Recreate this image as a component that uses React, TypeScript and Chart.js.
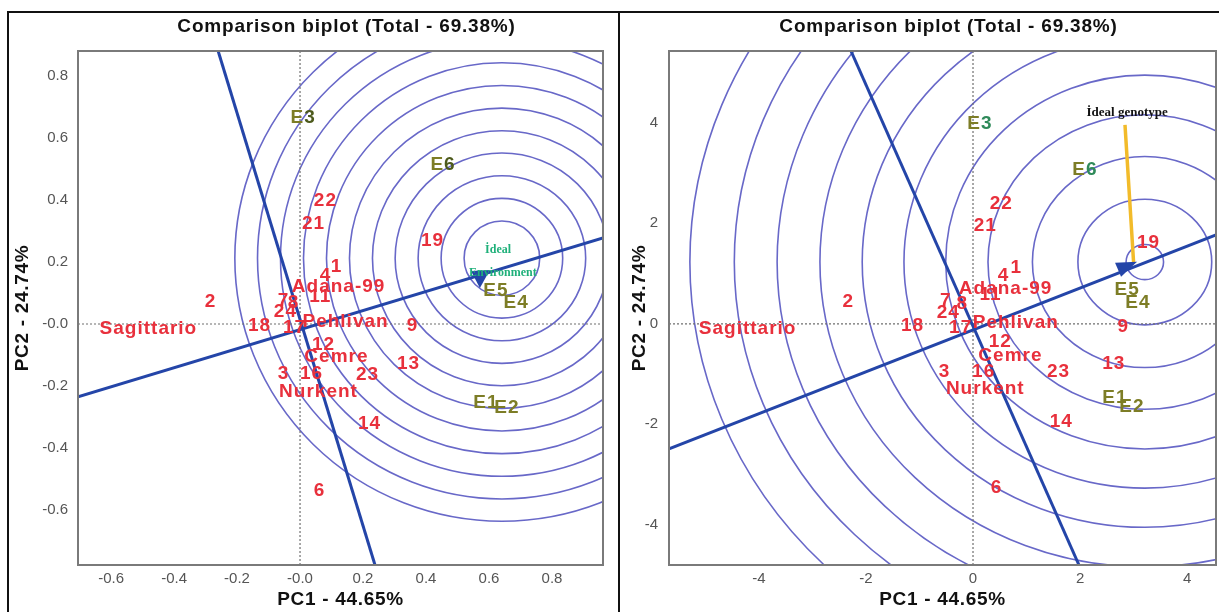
import React, { useEffect, useRef } from 'react';
import { Chart, registerables } from 'chart.js';

Chart.register(...registerables);

// ---------- data ----------
const genotypes = ['Sagittario', '2', '18', '7', '8', '24', '17', 'Pehlivan', 'Adana-99', '11', '4', '1', '21', '22', '12', 'Cemre', '3', '16', 'Nurkent', '23', '13', '9', '14', '6', '19'];
const leftGenX = [-0.483, -0.286, -0.13, -0.054, -0.022, -0.048, -0.019, 0.143, 0.121, 0.063, 0.079, 0.114, 0.041, 0.079, 0.073, 0.114, -0.054, 0.035, 0.057, 0.213, 0.343, 0.356, 0.219, 0.06, 0.419];
const leftGenY = [-0.016, 0.071, -0.006, 0.074, 0.068, 0.039, -0.013, 0.006, 0.119, 0.087, 0.155, 0.184, 0.323, 0.397, -0.068, -0.106, -0.161, -0.161, -0.219, -0.165, -0.129, -0.006, -0.323, -0.539, 0.268];
const rightGenX = [-4.22, -2.34, -1.14, -0.52, -0.21, -0.47, -0.24, 0.79, 0.6, 0.32, 0.56, 0.8, 0.22, 0.52, 0.5, 0.69, -0.54, 0.19, 0.22, 1.59, 2.62, 2.8, 1.64, 0.43, 3.27];
const rightGenY = [-0.1, 0.44, -0.04, 0.46, 0.4, 0.22, -0.08, 0.02, 0.7, 0.58, 0.96, 1.11, 1.95, 2.39, -0.36, -0.64, -0.96, -0.96, -1.29, -0.96, -0.8, -0.06, -1.95, -3.26, 1.61];

const environments = ['E1', 'E2', 'E3', 'E4', 'E5', 'E6'];
const leftEnvX = [0.59, 0.657, 0.01, 0.686, 0.622, 0.454];
const leftEnvY = [-0.255, -0.271, 0.665, 0.068, 0.106, 0.513];
const rightEnvX = [2.65, 2.97, 0.13, 3.08, 2.88, 2.09];
const rightEnvY = [-1.47, -1.65, 3.98, 0.42, 0.68, 3.06];

const leftXRange = [-0.705, 0.962];
const leftYRange = [-0.777, 0.88];
const rightXRange = [-5.68, 4.54];
const rightYRange = [-4.8, 5.43];

const leftTicks = [-0.6, -0.4, -0.2, 0, 0.2, 0.4, 0.6, 0.8];
const leftTickLabels = ['-0.6', '-0.4', '-0.2', '-0.0', '0.2', '0.4', '0.6', '0.8'];
const rightTicks = [-4, -2, 0, 2, 4];
const rightTickLabels = ['-4', '-2', '0', '2', '4'];

const leftIdeal = [0.641, 0.212];
const leftRadii = [0.12, 0.193, 0.266, 0.339, 0.411, 0.484, 0.557, 0.63, 0.703, 0.776, 0.848];
const rightIdeal = [3.21, 1.23];
const rightRadii = [0.35, 1.25, 2.1, 2.93, 3.72, 4.5, 5.28, 6.07, 6.87, 7.67, 8.5];

const leftAeaX = [-0.705, 0.962];
const leftAeaY = [-0.235, 0.277];
const leftPerpX = [-0.26, 0.238];
const leftPerpY = [0.88, -0.777];
const rightAeaX = [-5.68, 4.54];
const rightAeaY = [-2.49, 1.77];
const rightPerpX = [-2.28, 1.98];
const rightPerpY = [5.43, -4.8];

const leftArrowHeadX = [0.543, 0.603, 0.571];
const leftArrowHeadY = [0.171, 0.174, 0.116];
const rightArrowHeadX = [2.654, 3.065, 2.766];
const rightArrowHeadY = [1.214, 1.234, 0.935];

const rightGenotypeArrowX = [2.84, 3.0];
const rightGenotypeArrowY = [3.96, 1.23];

const titleText = 'Comparison biplot (Total - 69.38%)';
const xTitle = 'PC1 - 44.65%';
const yTitle = 'PC2 - 24.74%';

// ---------- styles ----------
const SANS = '"Liberation Sans", Arial, sans-serif';
const SERIF = '"Liberation Serif", "Times New Roman", serif';
const RED = '#e8303c';
const OLIVE = '#7d7d26';
const CIRCLE = '#6868c8';
const LINE = '#2445a8';

type PanelCfg = {
  genX: number[]; genY: number[]; envX: number[]; envY: number[];
  xRange: number[]; yRange: number[]; ticks: number[]; tickLabels: string[];
  ideal: number[]; radii: number[];
  aeaX: number[]; aeaY: number[]; perpX: number[]; perpY: number[];
  headX: number[]; headY: number[];
  yAxisWidth: number; padRight: number; yTitleX: number; yTickPad: number;
  digitColor: string;
  idealLabels: { text: string; x: number; y: number; font: string; color: string }[];
  genoArrowX?: number[]; genoArrowY?: number[];
  canvasWidth: number;
};

function buildConfig(p: PanelCfg): any {
  const decor = {
    id: 'biplotDecor',
    beforeDatasetsDraw(chart: any) {
      const { ctx, chartArea: a, scales } = chart;
      const sx = scales.x, sy = scales.y;
      ctx.save();
      ctx.beginPath();
      ctx.rect(a.left, a.top, a.right - a.left, a.bottom - a.top);
      ctx.clip();
      ctx.strokeStyle = CIRCLE;
      ctx.lineWidth = 1.6;
      const cx = sx.getPixelForValue(p.ideal[0]);
      const cy = sy.getPixelForValue(p.ideal[1]);
      p.radii.forEach((r) => {
        const rx = Math.abs(sx.getPixelForValue(p.ideal[0] + r) - cx);
        const ry = Math.abs(sy.getPixelForValue(p.ideal[1] + r) - cy);
        ctx.beginPath();
        ctx.ellipse(cx, cy, rx, ry, 0, 0, Math.PI * 2);
        ctx.stroke();
      });
      ctx.restore();
    },
    afterDatasetsDraw(chart: any) {
      const { ctx, chartArea: a, scales } = chart;
      const sx = scales.x, sy = scales.y;
      ctx.save();
      ctx.strokeStyle = '#7a7a7a';
      ctx.lineWidth = 2;
      ctx.strokeRect(a.left, a.top, a.right - a.left, a.bottom - a.top);
      ctx.fillStyle = LINE;
      ctx.beginPath();
      p.headX.forEach((hx, i) => {
        const X = sx.getPixelForValue(hx), Y = sy.getPixelForValue(p.headY[i]);
        if (i === 0) ctx.moveTo(X, Y); else ctx.lineTo(X, Y);
      });
      ctx.closePath();
      ctx.fill();
      ctx.textAlign = 'center';
      ctx.textBaseline = 'middle';
      (ctx as any).letterSpacing = '1px';
      ctx.font = `bold 19px ${SANS}`;
      ctx.fillStyle = RED;
      const gm = chart.getDatasetMeta(0);
      gm.data.forEach((el: any, i: number) => {
        ctx.fillText(genotypes[i], el.x + 0.5, el.y);
      });
      const em = chart.getDatasetMeta(1);
      em.data.forEach((el: any, i: number) => {
        const t = environments[i];
        const w = ctx.measureText(t).width;
        const wE = ctx.measureText('E').width;
        ctx.textAlign = 'left';
        ctx.fillStyle = OLIVE;
        ctx.fillText('E', el.x - w / 2, el.y);
        ctx.fillStyle = (t === 'E3' || t === 'E6') ? p.digitColor : OLIVE;
        ctx.fillText(t.slice(1), el.x - w / 2 + wE, el.y);
      });
      (ctx as any).letterSpacing = '0px';
      ctx.textAlign = 'center';
      p.idealLabels.forEach((l) => {
        ctx.font = l.font;
        ctx.fillStyle = l.color;
        ctx.fillText(l.text, sx.getPixelForValue(l.x), sy.getPixelForValue(l.y));
      });
      ctx.restore();
    },
    afterDraw(chart: any) {
      const { ctx, chartArea: a } = chart;
      ctx.save();
      ctx.fillStyle = '#111';
      ctx.textAlign = 'center';
      ctx.textBaseline = 'middle';
      ctx.font = `bold 19px ${SANS}`;
      const mid = (a.left + a.right) / 2;
      (ctx as any).letterSpacing = '0.8px';
      ctx.fillText(titleText, mid + 6, 15);
      (ctx as any).letterSpacing = '0.7px';
      ctx.fillText(xTitle, mid, 588);
      ctx.translate(p.yTitleX, (a.top + a.bottom) / 2);
      ctx.rotate(-Math.PI / 2);
      ctx.fillText(yTitle, 0, 0);
      ctx.restore();
    },
  };

  const toPts = (xs: number[], ys: number[]) => xs.map((x, i) => ({ x, y: ys[i] }));
  const lineDs = (data: any[], color: string, width: number, dash: number[] = []) => ({
    data, showLine: true, borderColor: color, borderWidth: width, borderDash: dash,
    pointRadius: 0, pointHoverRadius: 0, fill: false,
  });

  const datasets: any[] = [
    { label: 'genotypes', data: toPts(p.genX, p.genY), pointRadius: 0, pointHoverRadius: 0 },
    { label: 'environments', data: toPts(p.envX, p.envY), pointRadius: 0, pointHoverRadius: 0 },
  ];
  if (p.genoArrowX && p.genoArrowY) {
    datasets.push(lineDs(toPts(p.genoArrowX, p.genoArrowY), '#f2bb2a', 3.5));
  }
  datasets.push(lineDs(toPts(p.aeaX, p.aeaY), LINE, 3));
  datasets.push(lineDs(toPts(p.perpX, p.perpY), LINE, 3));
  datasets.push(lineDs([{ x: 0, y: p.yRange[0] }, { x: 0, y: p.yRange[1] }], '#6f6f6f', 1.2, [2, 2]));
  datasets.push(lineDs([{ x: p.xRange[0], y: 0 }, { x: p.xRange[1], y: 0 }], '#6f6f6f', 1.2, [2, 2]));

  const tickFont = { family: SANS, size: 15 };
  return {
    type: 'scatter',
    data: { datasets },
    options: {
      responsive: false,
      animation: false,
      devicePixelRatio: 1,
      events: [],
      layout: { padding: { top: 39, right: p.padRight, bottom: 0, left: 0 } },
      plugins: { legend: { display: false }, tooltip: { enabled: false }, title: { display: false } },
      scales: {
        x: {
          type: 'linear', min: p.xRange[0], max: p.xRange[1],
          grid: { display: false, drawTicks: false }, border: { display: false },
          ticks: {
            font: tickFont, color: '#555', padding: 5, maxRotation: 0, autoSkip: false,
            callback: (_v: any, i: number) => p.tickLabels[i],
          },
          afterBuildTicks: (s: any) => { s.ticks = p.ticks.map((v) => ({ value: v })); },
          afterFit: (s: any) => { s.height = 47; },
        },
        y: {
          type: 'linear', min: p.yRange[0], max: p.yRange[1],
          grid: { display: false, drawTicks: false }, border: { display: false },
          ticks: {
            font: tickFont, color: '#555', padding: p.yTickPad, autoSkip: false,
            callback: (_v: any, i: number) => p.tickLabels[i],
          },
          afterBuildTicks: (s: any) => { s.ticks = p.ticks.map((v) => ({ value: v })); },
          afterFit: (s: any) => { s.width = p.yAxisWidth; },
        },
      },
    },
    plugins: [decor],
  };
}

const leftCfg: PanelCfg = {
  genX: leftGenX, genY: leftGenY, envX: leftEnvX, envY: leftEnvY,
  xRange: leftXRange, yRange: leftYRange, ticks: leftTicks, tickLabels: leftTickLabels,
  ideal: leftIdeal, radii: leftRadii,
  aeaX: leftAeaX, aeaY: leftAeaY, perpX: leftPerpX, perpY: leftPerpY,
  headX: leftArrowHeadX, headY: leftArrowHeadY,
  yAxisWidth: 70, padRight: 14, yTitleX: 15, yTickPad: 10,
  digitColor: '#4d5a1c',
  idealLabels: [
    { text: 'İdeal', x: 0.629, y: 0.239, font: `bold 12px ${SERIF}`, color: '#1fb07a' },
    { text: 'Environment', x: 0.644, y: 0.165, font: `bold 12px ${SERIF}`, color: '#1fb07a' },
  ],
  canvasWidth: 609,
};

const rightCfg: PanelCfg = {
  genX: rightGenX, genY: rightGenY, envX: rightEnvX, envY: rightEnvY,
  xRange: rightXRange, yRange: rightYRange, ticks: rightTicks, tickLabels: rightTickLabels,
  ideal: rightIdeal, radii: rightRadii,
  aeaX: rightAeaX, aeaY: rightAeaY, perpX: rightPerpX, perpY: rightPerpY,
  headX: rightArrowHeadX, headY: rightArrowHeadY,
  yAxisWidth: 49, padRight: 3, yTitleX: 20, yTickPad: 11,
  digitColor: '#2f8a5a',
  idealLabels: [
    { text: 'İdeal genotype', x: 2.88, y: 4.2, font: `bold 13px ${SERIF}`, color: '#111' },
  ],
  genoArrowX: rightGenotypeArrowX, genoArrowY: rightGenotypeArrowY,
  canvasWidth: 599,
};

function Panel({ cfg, left }: { cfg: PanelCfg; left: number }) {
  const ref = useRef<HTMLCanvasElement>(null);
  useEffect(() => {
    const chart = new Chart(ref.current as HTMLCanvasElement, buildConfig(cfg));
    return () => chart.destroy();
  }, []);
  return (
    <canvas
      ref={ref}
      width={cfg.canvasWidth}
      height={600}
      style={{ position: 'absolute', left, top: 12, width: cfg.canvasWidth, height: 600 }}
    />
  );
}

export default function App() {
  const bar = (l: number, t: number, w: number, h: number) => (
    <div style={{ position: 'absolute', left: l, top: t, width: w, height: h, background: '#111' }} />
  );
  return (
    <div style={{ position: 'absolute', left: 0, top: 0, width: 1219, height: 612, background: '#fff', overflow: 'hidden' }}>
      <Panel cfg={leftCfg} left={8} />
      <Panel cfg={rightCfg} left={620} />
      {bar(7, 11, 1212, 2)}
      {bar(7, 11, 2, 601)}
      {bar(618, 11, 2, 601)}
    </div>
  );
}
